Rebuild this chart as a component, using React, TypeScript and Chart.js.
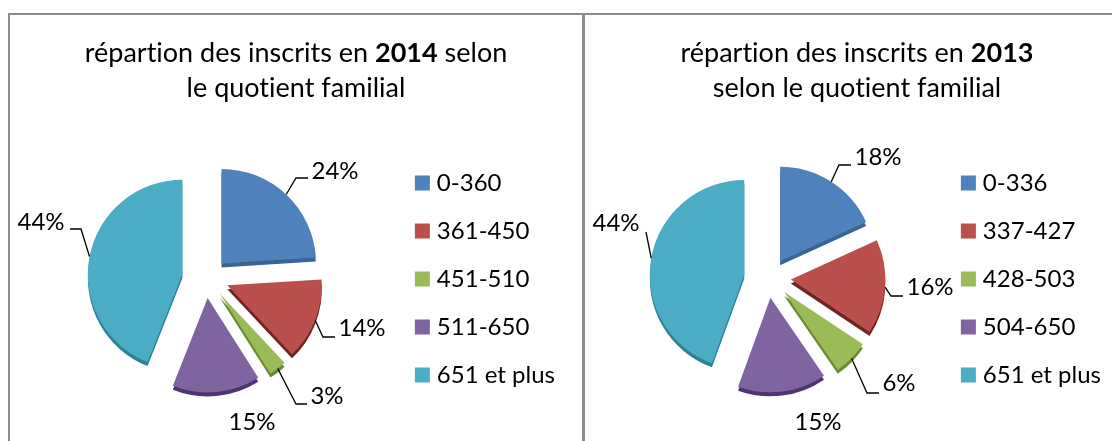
import React, { useEffect, useRef } from "react";
import { Chart, registerables } from "chart.js";

Chart.register(...registerables);

const FONT = "Lato, 'Open Sans', sans-serif";

const labels2014 = ["0-360", "361-450", "451-510", "511-650", "651 et plus"];
const values2014 = [24, 14, 3, 15, 44];
const labels2013 = ["0-336", "337-427", "428-503", "504-650", "651 et plus"];
const values2013 = [18, 16, 6, 15, 44];

const sliceColors = ["#4F81BD", "#BA4F4C", "#9BBB59", "#8064A2", "#4BACC6"];
const depthColors = ["#3A6494", "#6E2423", "#6B8A35", "#4C3570", "#2F8198"];

const EXPLODE_X = 23.5;
const EXPLODE_Y = 20;
const PIE_SHIFT_Y = -1;
const DEPTH = 4;

// Annotation layout, in canvas pixels: elbow, line end, text centre.
type Leader = { elbow?: number[]; end?: number[]; text: number[] };
const leaders2014: Leader[] = [
  { elbow: [296, 178], end: [308, 178], text: [335, 171] },
  { elbow: [323, 337], end: [335, 337], text: [362, 328] },
  { elbow: [296, 404], end: [307, 404], text: [327, 396] },
  { text: [252, 422] },
  { elbow: [81, 229], end: [70, 229], text: [41, 222] },
];
const leaders2013: Leader[] = [
  { elbow: [257, 165], end: [269, 165], text: [296, 157] },
  { elbow: [309, 296], end: [321, 296], text: [348, 287] },
  { elbow: [285, 393], end: [297, 393], text: [317, 383] },
  { text: [236, 422] },
  { elbow: [64, 232], text: [34, 223] },
];

// Draws each library arc pushed out along its own mid-angle, with a darker
// copy underneath for the extruded edge.
const explodedPlugin = {
  id: "exploded",
  beforeDatasetsDraw(chart: any) {
    const ctx = chart.ctx;
    const meta = chart.getDatasetMeta(0);
    meta.data.forEach((el: any, i: number) => {
      const mid = (el.startAngle + el.endAngle) / 2;
      const dx = Math.cos(mid) * EXPLODE_X;
      const dy = Math.sin(mid) * EXPLODE_Y + PIE_SHIFT_Y;
      const original = el.options;
      const shaded = Object.create(original);
      Object.defineProperty(shaded, "backgroundColor", { value: depthColors[i] });
      el.options = shaded;
      ctx.save();
      ctx.translate(dx, dy + DEPTH);
      el.draw(ctx);
      ctx.restore();
      el.options = original;
      ctx.save();
      ctx.translate(dx, dy);
      el.draw(ctx);
      ctx.restore();
    });
    return false;
  },
};

function makeLeaderPlugin(layout: Leader[]) {
  return {
    id: "leaders",
    afterDraw(chart: any) {
      const ctx = chart.ctx;
      const meta = chart.getDatasetMeta(0);
      ctx.save();
      ctx.strokeStyle = "#000";
      ctx.lineWidth = 1.3;
      ctx.fillStyle = "#000";
      ctx.font = `24px ${FONT}`;
      ctx.textAlign = "center";
      ctx.textBaseline = "middle";
      const values = chart.data.datasets[0].data;
      meta.data.forEach((el: any, i: number) => {
        const mid = (el.startAngle + el.endAngle) / 2;
        const item = layout[i];
        if (item.elbow) {
          const sx = el.x + Math.cos(mid) * (el.outerRadius + EXPLODE_X);
          const sy = el.y + Math.sin(mid) * (el.outerRadius + EXPLODE_Y) + PIE_SHIFT_Y;
          ctx.beginPath();
          ctx.moveTo(sx, sy);
          ctx.lineTo(item.elbow[0], item.elbow[1]);
          if (item.end) ctx.lineTo(item.end[0], item.end[1]);
          ctx.stroke();
        }
        ctx.fillText(`${values[i]}%`, item.text[0], item.text[1]);
      });
      ctx.restore();
    },
  };
}

function Pie(props: {
  labels: string[];
  values: number[];
  layout: Leader[];
  left: number;
  width: number;
  padLeft: number;
  padRight: number;
}) {
  const ref = useRef<HTMLCanvasElement>(null);
  useEffect(() => {
    const chart = new Chart(ref.current as HTMLCanvasElement, {
      type: "pie",
      data: {
        labels: props.labels,
        datasets: [
          {
            data: props.values,
            backgroundColor: sliceColors,
            borderWidth: 0,
          },
        ],
      },
      options: {
        animation: false,
        responsive: false,
        radius: 94.5,
        layout: {
          padding: { left: props.padLeft, right: props.padRight, top: 117, bottom: 0 },
        },
        plugins: {
          tooltip: { enabled: false },
          title: { display: false },
          legend: {
            position: "right",
            labels: {
              usePointStyle: true,
              pointStyle: "rect",
              boxWidth: 5,
              boxHeight: 15,
              padding: 24,
              color: "#000",
              font: { family: FONT, size: 24, lineHeight: 1 },
            },
          },
        },
      } as any,
      plugins: [explodedPlugin, makeLeaderPlugin(props.layout)],
    });
    return () => chart.destroy();
  }, []);
  return (
    <canvas
      ref={ref}
      width={props.width}
      height={441}
      style={{ position: "absolute", left: props.left, top: 0, width: props.width, height: 441 }}
    />
  );
}

function Title(props: { center: number; lines: React.ReactNode[] }) {
  return (
    <div
      style={{
        position: "absolute",
        left: props.center - 260,
        width: 520,
        top: 34,
        textAlign: "center",
        fontFamily: FONT,
        fontSize: 27,
        lineHeight: "35px",
        color: "#000",
        fontVariantLigatures: "none",
      }}
    >
      {props.lines.map((l, i) => (
        <div key={i}>{l}</div>
      ))}
    </div>
  );
}

const rule = { position: "absolute" as const, background: "#8C8C8C" };

export default function App() {
  useEffect(() => {
    document.body.style.margin = "0";
  }, []);
  return (
    <div style={{ position: "absolute", left: 0, top: 0, width: 1112, height: 441, overflow: "hidden", background: "#fff" }}>
      <Pie labels={labels2014} values={values2014} layout={leaders2014} left={0} width={582} padLeft={15} padRight={17} />
      <Pie labels={labels2013} values={values2013} layout={leaders2013} left={582} width={530} padLeft={11} padRight={1} />
      <div style={{ ...rule, left: 8, top: 13, width: 1104, height: 2 }} />
      <div style={{ ...rule, left: 8, top: 13, width: 2, height: 428 }} />
      <div style={{ ...rule, left: 582, top: 13, width: 3, height: 428 }} />
      <Title center={296} lines={[<>répartion des inscrits en <b>2014</b> selon</>, "le quotient familial"]} />
      <Title center={857} lines={[<>répartion des inscrits en <b>2013</b></>, "selon le quotient familial"]} />
    </div>
  );
}
